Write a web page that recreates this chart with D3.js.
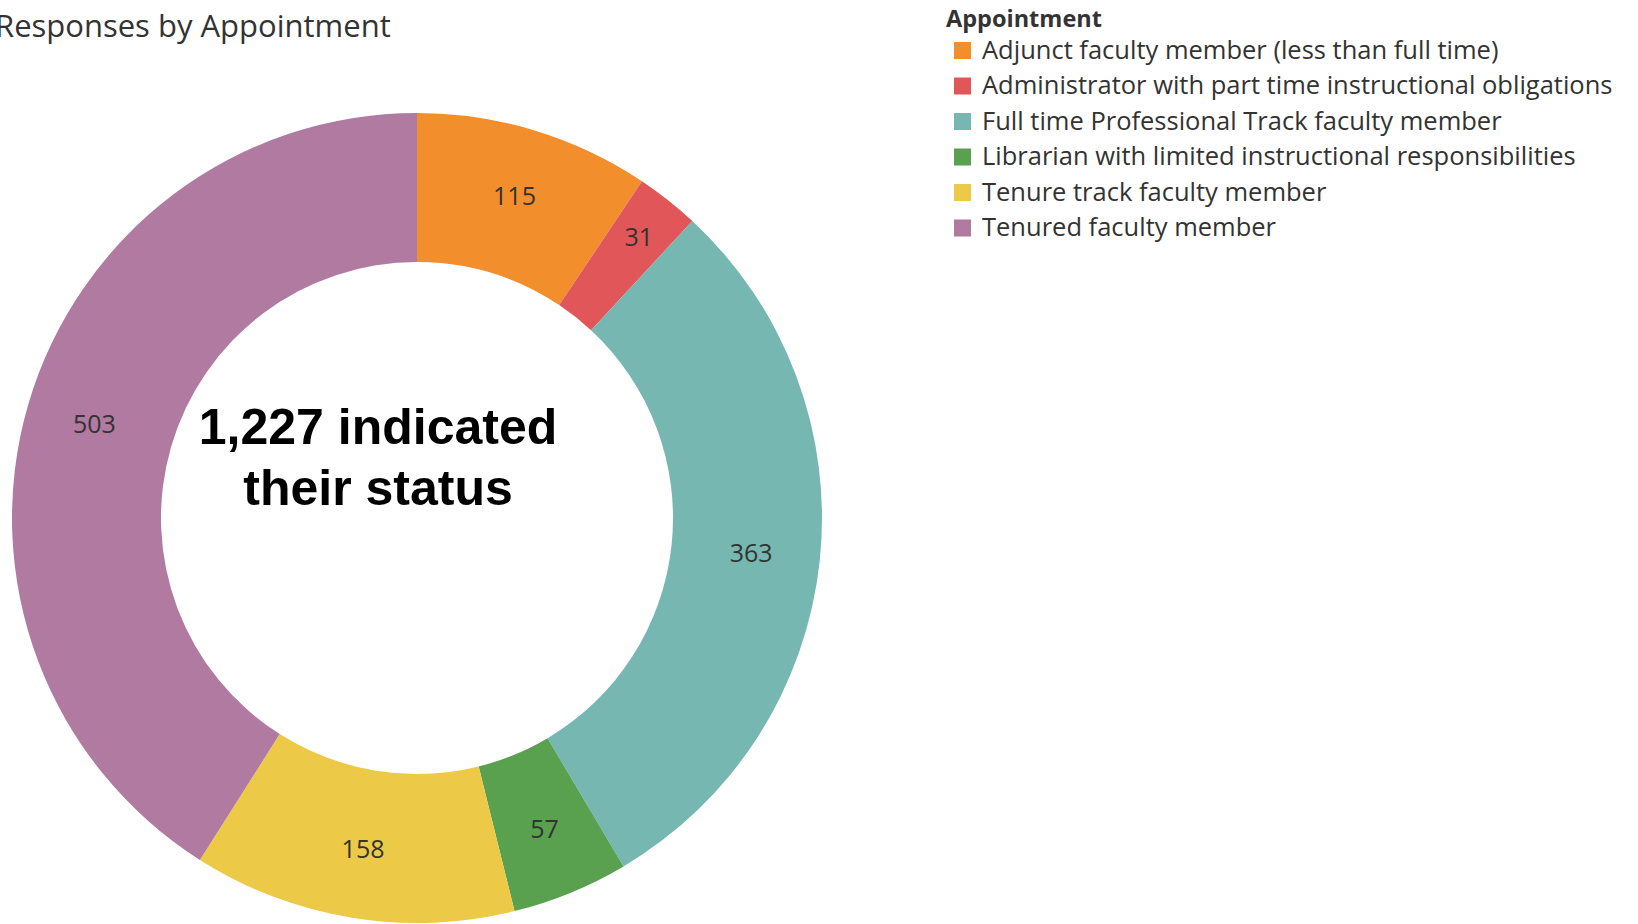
<!DOCTYPE html>
<html>
<head>
<meta charset="utf-8">
<script src="https://cdn.jsdelivr.net/npm/d3@7"></script>
<style>
  body { margin: 0; background: #fff; }
  svg { display: block; }
</style>
</head>
<body>
<div id="chart"></div>
<script>
// appointment categories, in Tableau's order (clockwise from 12 o'clock)
const categories = [
  "Adjunct faculty member (less than full time)",
  "Administrator with part time instructional obligations",
  "Full time Professional Track faculty member",
  "Librarian with limited instructional responsibilities",
  "Tenure track faculty member",
  "Tenured faculty member"
];
const counts = [115, 31, 363, 57, 158, 503];
const colors = ["#f28e2b", "#e15759", "#76b7b2", "#59a14f", "#edc948", "#b07aa1"];
const centerLines = ["1,227 indicated", "their status"];

const width = 1638, height = 924;
const cx = 417, cy = 518;
const outerR = 405, innerR = 256;

var data = categories.map(function(c, i) { return { name: c, value: counts[i] }; });

var color = d3.scaleOrdinal().domain(categories).range(colors);

var svg = d3.select("#chart")
    .append("svg")
    .attr("width", width)
    .attr("height", height);

// title, slightly cut off at the left like the screenshot
svg.append("text")
    .attr("x", -5)
    .attr("y", 37)
    .style("font-family", "'Open Sans', sans-serif")
    .style("font-size", "31px")
    .style("fill", "#333")
    .text("Responses by Appointment");

var pie = d3.pie()
    .value(function(d) { return d.value; })
    .sort(null);

var arc = d3.arc()
    .innerRadius(innerR)
    .outerRadius(outerR);

// labels sit a bit outside the ring's middle; thin slices get pushed further out
var labelArc = d3.arc().innerRadius(336).outerRadius(336);
var thinLabelArc = d3.arc().innerRadius(358).outerRadius(358);

var g = svg.append("g")
    .attr("transform", "translate(" + cx + "," + cy + ")");

var slices = g.selectAll(".slice")
    .data(pie(data))
    .enter().append("g")
    .attr("class", "slice");

slices.append("path")
    .attr("d", arc)
    .style("fill", function(d) { return color(d.data.name); });

slices.append("text")
    .attr("transform", function(d) {
        var a = (d.endAngle - d.startAngle) < 0.2 ? thinLabelArc : labelArc;
        return "translate(" + a.centroid(d) + ")";
    })
    .attr("text-anchor", "middle")
    .attr("dy", "0.35em")
    .style("font-family", "'Open Sans', sans-serif")
    .style("font-size", "25px")
    .style("fill", "#333")
    .text(function(d) { return d.data.value; });

// big center note
g.selectAll(".center")
    .data(centerLines)
    .enter().append("text")
    .attr("class", "center")
    .attr("x", -39)
    .attr("y", function(d, i) { return -74 + i * 61; })
    .attr("text-anchor", "middle")
    .style("font-family", "'Liberation Sans', Arial, sans-serif")
    .style("font-weight", "bold")
    .style("font-size", "50px")
    .style("fill", "#000")
    .text(function(d) { return d; });

// legend
var legend = svg.append("g")
    .attr("transform", "translate(946,0)");

legend.append("text")
    .attr("x", 0)
    .attr("y", 27)
    .style("font-family", "'Open Sans', sans-serif")
    .style("font-weight", "bold")
    .style("font-size", "23.5px")
    .style("fill", "#333")
    .text("Appointment");

var item = legend.selectAll(".item")
    .data(categories)
    .enter().append("g")
    .attr("class", "item")
    .attr("transform", function(d, i) { return "translate(0," + (50 + i * 35.5) + ")"; });

item.append("rect")
    .attr("x", 8)
    .attr("y", -8)
    .attr("width", 17)
    .attr("height", 17)
    .style("fill", function(d) { return color(d); });

item.append("text")
    .attr("x", 36)
    .attr("dy", "0.35em")
    .style("font-family", "'Open Sans', sans-serif")
    .style("font-size", "25.5px")
    .style("fill", "#333")
    .text(function(d) { return d; });
</script>
</body>
</html>
